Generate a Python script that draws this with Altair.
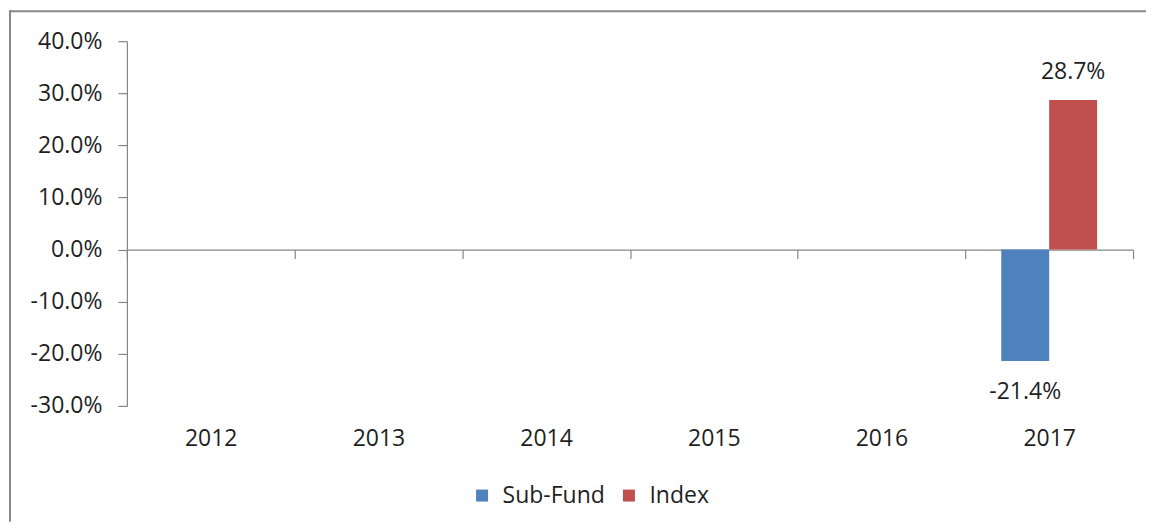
import altair as alt
import pandas as pd

# ---- data ----
years = ["2012", "2013", "2014", "2015", "2016", "2017"]
series = ["Sub-Fund", "Index"]
sub_fund = [None, None, None, None, None, -0.214]
index_vals = [None, None, None, None, None, 0.287]
y_ticks = [-0.3, -0.2, -0.1, 0.0, 0.1, 0.2, 0.3, 0.4]
y_domain = [-0.3, 0.4]
colors = ["#4F81BD", "#C0504D"]

rows = []
for yr, s, i in zip(years, sub_fund, index_vals):
    rows.append({"year": yr, "series": "Sub-Fund", "value": s})
    rows.append({"year": yr, "series": "Index", "value": i})
df = pd.DataFrame(rows).dropna(subset=["value"]).reset_index(drop=True)
df["label"] = df["value"].map(lambda v: f"{v * 100:.1f}%")

# ---- style ----
FONT = "Open Sans"
FS = 23
TXT = "#1f1f1f"
GRAY = "#868686"
W, H = 1007, 365
zero_from_bottom = H * (0 - y_domain[0]) / (y_domain[1] - y_domain[0])

x_enc = alt.X(
    "year:N",
    scale=alt.Scale(domain=years, paddingInner=0, paddingOuter=0),
    axis=alt.Axis(
        title=None, orient="bottom", offset=-zero_from_bottom,
        domainColor=GRAY, domainWidth=1.2, tickColor=GRAY, tickWidth=1.2,
        tickSize=9, tickBand="extent", labelAngle=0,
        labelFont=FONT, labelFontSize=FS, labelColor=TXT,
        labelPadding=zero_from_bottom + 40 - 9,
        labelBaseline="alphabetic",
    ),
)

y_enc = alt.Y(
    "value:Q",
    scale=alt.Scale(domain=y_domain, nice=False, zero=False),
    axis=alt.Axis(
        title=None, values=y_ticks, format=".1%",
        labelExpr="replace(datum.label, '\u2212', '-')",
        grid=False, domainColor=GRAY, domainWidth=1.2, tickColor=GRAY,
        tickWidth=1.2, tickSize=9, labelPadding=16,
        labelFont=FONT, labelFontSize=FS, labelColor=TXT,
    ),
)

xoff = alt.XOffset(
    "series:N",
    scale=alt.Scale(domain=series, paddingOuter=0.75, paddingInner=0),
)

color_enc = alt.Color(
    "series:N",
    scale=alt.Scale(domain=series, range=colors),
    legend=alt.Legend(
        orient="none", legendX=344, legendY=443, direction="horizontal",
        title=None, symbolType="square", symbolSize=144, symbolStrokeWidth=0,
        labelFont=FONT, labelFontSize=FS, labelColor=TXT, labelOffset=9,
        columnPadding=12,
    ),
)

base = alt.Chart(df)

bars = base.mark_bar().encode(x=x_enc, y=y_enc, xOffset=xoff, color=color_enc)

pos_labels = base.transform_filter("datum.value > 0").mark_text(
    dy=-21, baseline="alphabetic", font=FONT, fontSize=FS, color=TXT
).encode(x="year:N", xOffset="series:N", y="value:Q", text="label:N")

neg_labels = base.transform_filter("datum.value < 0").mark_text(
    dy=38, baseline="alphabetic", font=FONT, fontSize=FS, color=TXT
).encode(x="year:N", xOffset="series:N", y="value:Q", text="label:N")

frame_df = pd.DataFrame({"f": [0]})
frame_top = alt.Chart(frame_df).mark_rule(color="#888888", strokeWidth=2).encode(
    x=alt.value(-118), x2=alt.value(1020), y=alt.value(-30)
)
frame_left = alt.Chart(frame_df).mark_rule(color="#888888", strokeWidth=2).encode(
    x=alt.value(-117), y=alt.value(-31), y2=alt.value(481)
)

chart = (
    alt.layer(bars, pos_labels, neg_labels, frame_top, frame_left)
    .properties(width=W, height=H, padding={"left": 0, "top": 1, "right": 0, "bottom": 0})
    .configure_view(stroke=None)
)

chart.save("out.html", embed_options={"renderer": "svg", "actions": False})
